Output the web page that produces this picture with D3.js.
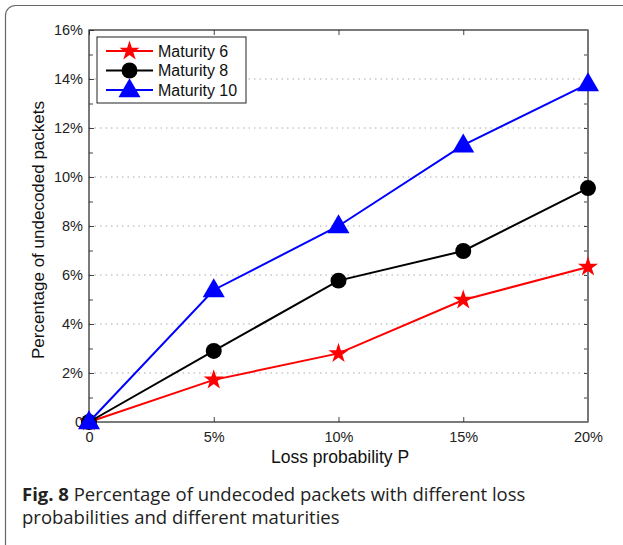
<!DOCTYPE html>
<html><head><meta charset="utf-8">
<script src="https://cdn.jsdelivr.net/npm/d3@7"></script>
<style>body{margin:0;background:#fff}svg{display:block}</style>
</head><body>
<script>
const xValues = [0, 5, 10, 15, 20];
const xTickLabels = ["0", "5%", "10%", "15%", "20%"];
const yTicks = [0, 2, 4, 6, 8, 10, 12, 14, 16];
const yTickLabels = ["0", "2%", "4%", "6%", "8%", "10%", "12%", "14%", "16%"];
const seriesNames = ["Maturity 6", "Maturity 8", "Maturity 10"];
const maturity6 = [0, 1.72, 2.8, 4.98, 6.33];
const maturity8 = [0, 2.9, 5.77, 6.98, 9.55];
const maturity10 = [0, 5.39, 8.0, 11.3, 13.8];
const colors = ["#ff0000", "#000000", "#0000ff"];
const symbols = [d3.symbolStar, d3.symbolCircle, d3.symbolTriangle];
const symbolSizes = [125, 200, 210];

const W = 623, H = 545;
const svg = d3.select("body").append("svg").attr("width", W).attr("height", H);
svg.append("rect").attr("x", 5.5).attr("y", 5.5).attr("width", 700).attr("height", 600)
  .attr("rx", 10).attr("fill", "none").attr("stroke", "#666").attr("stroke-width", 1.2);

const L = 89, R = 588, T = 30, B = 422;
const x = d3.scaleLinear().domain([0, 20]).range([L, R]);
const y = d3.scaleLinear().domain([0, 16]).range([B, T]);
const font = "'Liberation Sans', Arial, sans-serif";

// grid
svg.append("g").selectAll("line").data(yTicks.filter(d => d > 0 && d < 16)).join("line")
  .attr("x1", L).attr("x2", R).attr("y1", d => y(d)).attr("y2", d => y(d))
  .attr("stroke", "#aaa").attr("stroke-width", 1).attr("stroke-dasharray", "1.5,4");

// axes
const yMinor = d3.range(1, 16, 1);
const axL = d3.axisLeft(y).tickValues(yTicks).tickFormat((d, i) => yTickLabels[i]).tickSize(-5).tickPadding(6);
const gL = svg.append("g").attr("transform", `translate(${L},0)`).call(axL);
const axR = d3.axisRight(y).tickValues(yMinor).tickFormat("").tickSize(-4);
const gR = svg.append("g").attr("transform", `translate(${R},0)`).call(axR);
const axLm = d3.axisLeft(y).tickValues(yMinor.filter(d => d % 2)).tickFormat("").tickSize(-4);
const gLm = svg.append("g").attr("transform", `translate(${L},0)`).call(axLm);
const axB = d3.axisBottom(x).tickValues(xValues).tickFormat((d, i) => xTickLabels[i]).tickSize(-5).tickPadding(10);
const gB = svg.append("g").attr("transform", `translate(0,${B})`).call(axB);
const axT = d3.axisTop(x).tickValues(xValues).tickFormat("").tickSize(-5);
const gT = svg.append("g").attr("transform", `translate(0,${T})`).call(axT);
[gL, gR, gLm, gB, gT].forEach(g => {
  g.select(".domain").remove();
  g.selectAll(".tick line").attr("stroke", "#444");
  g.selectAll("text").attr("font-family", font).attr("font-size", 14.5).attr("fill", "#222");
});
svg.append("rect").attr("x", L).attr("y", T).attr("width", R - L).attr("height", B - T)
  .attr("fill", "none").attr("stroke", "#222").attr("stroke-width", 1.2);
svg.append("line").attr("x1", R).attr("x2", R).attr("y1", T).attr("y2", B)
  .attr("stroke", "#777").attr("stroke-width", 2);

// series
const allSeries = [maturity6, maturity8, maturity10];
const line = d3.line().x((d, i) => x(xValues[i])).y(d => y(d));
allSeries.forEach((s, k) => {
  svg.append("path").datum(s).attr("d", line).attr("fill", "none")
    .attr("stroke", colors[k]).attr("stroke-width", 2);
  svg.append("g").selectAll("path").data(s).join("path")
    .attr("transform", (d, i) => `translate(${x(xValues[i])},${y(d) + (k === 2 ? 1 : 0)})`)
    .attr("d", d3.symbol().type(symbols[k]).size(symbolSizes[k]))
    .attr("fill", colors[k]);
});

// legend
const lg = svg.append("g");
lg.append("rect").attr("x", 97).attr("y", 37).attr("width", 149).attr("height", 66)
  .attr("fill", "#fff").attr("stroke", "#222").attr("stroke-width", 1);
seriesNames.forEach((n, k) => {
  const yy = 51 + k * 19.5;
  lg.append("line").attr("x1", 106).attr("x2", 153).attr("y1", yy).attr("y2", yy)
    .attr("stroke", colors[k]).attr("stroke-width", 2);
  lg.append("path").attr("transform", `translate(129.5,${yy + (k === 2 ? 1 : 0)})`)
    .attr("d", d3.symbol().type(symbols[k]).size(symbolSizes[k])).attr("fill", colors[k]);
  lg.append("text").attr("x", 158).attr("y", yy + 5.5).text(n)
    .attr("font-family", font).attr("font-size", 16).attr("fill", "#111");
});

// axis labels
svg.append("text").attr("x", 340).attr("y", 463).attr("text-anchor", "middle")
  .attr("font-family", font).attr("font-size", 17.5).attr("fill", "#111").text("Loss probability P");
svg.append("text").attr("transform", `translate(44,230) rotate(-90)`).attr("text-anchor", "middle")
  .attr("font-family", font).attr("font-size", 17).attr("fill", "#111").text("Percentage of undecoded packets");

// caption
const cap = svg.append("text").attr("x", 22).attr("y", 501)
  .attr("font-family", "'Open Sans', sans-serif").attr("font-size", 18.5).attr("fill", "#222");
cap.append("tspan").attr("font-weight", "bold").text("Fig. 8");
cap.append("tspan").text(" Percentage of undecoded packets with different loss");
svg.append("text").attr("x", 22).attr("y", 524)
  .attr("font-family", "'Open Sans', sans-serif").attr("font-size", 18.5).attr("fill", "#222")
  .text("probabilities and different maturities");
</script>
</body></html>
